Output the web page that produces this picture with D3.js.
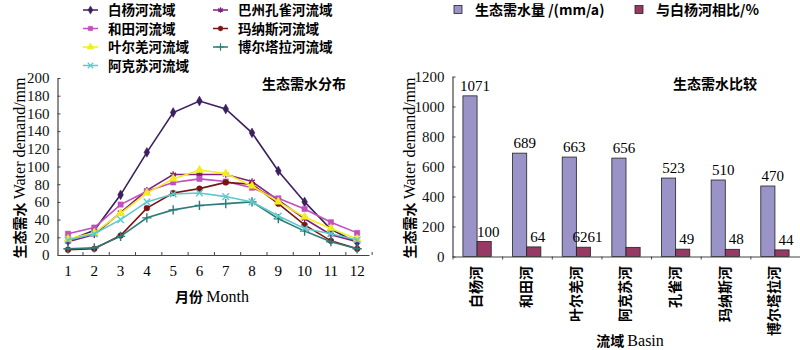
<!DOCTYPE html>
<html>
<head>
<meta charset="utf-8">
<script src="https://cdn.jsdelivr.net/npm/d3@7"></script>
<style>
  body { margin: 0; background: #fff; }
  svg { display: block; font-family: "Liberation Serif", "Noto Sans CJK SC", serif; }
  .cn { font-family: "Noto Sans CJK SC", sans-serif; font-weight: bold; }
  .en { font-family: "Liberation Serif", serif; font-size: 16px; }
</style>
</head>
<body>
<svg id="chart" width="800" height="350"></svg>
<script>
/* ======================== DATA ========================= */
/* ======================================================= */

let months = [1, 2, 3, 4, 5, 6, 7, 8, 9, 10, 11, 12];

let seriesNames = ["白杨河流域", "巴州孔雀河流域", "和田河流域", "玛纳斯河流域",
                   "叶尔羌河流域", "博尔塔拉河流域", "阿克苏河流域"];

let baiyang   = [16, 28, 68, 116, 161, 174, 165, 138, 95, 60, 29, 14];
let kongque   = [15, 23, 48, 73, 91, 91, 91, 83, 62, 41, 23, 15];
let hetian    = [24, 31, 57, 72, 82, 86, 83, 76, 64, 52, 37, 25];
let manasi    = [6, 7, 22, 53, 70, 75, 82, 80, 58, 34, 16, 7];
let yeerqiang = [18, 25, 47, 70, 86, 96, 92, 78, 60, 43, 30, 18];
let boertala  = [7, 8, 21, 42, 51, 56, 58, 60, 41, 27, 15, 7];
let akesu     = [17, 24, 40, 60, 69, 70, 66, 60, 44, 30, 24, 17];

let basins    = ["白杨河", "和田河", "叶尔羌河", "阿克苏河", "孔雀河", "玛纳斯河", "博尔塔拉河"];
let demand    = [1071, 689, 663, 656, 523, 510, 470];
let ratio     = [100, 64, 62, 61, 49, 48, 44];
let ratioText = ["100", "64", "6261", "", "49", "48", "44"];

let lineTicks = [0, 20, 40, 60, 80, 100, 120, 140, 160, 180, 200];
let barTicks  = [0, 200, 400, 600, 800, 1000, 1200];

/* ======================================================= */

let svg = d3.select("#chart");

function translate(x, y) { return "translate(" + x + "," + y + ")"; }

let lineSeries = [
    { name: seriesNames[0], values: baiyang,   color: "#3b1f5e", symbol: d3.symbolDiamond,  fill: true,  size: 28 },
    { name: seriesNames[1], values: kongque,   color: "#82207f", symbol: d3.symbolAsterisk, fill: false, size: 30 },
    { name: seriesNames[2], values: hetian,    color: "#c04fbf", symbol: d3.symbolSquare,   fill: true,  size: 28 },
    { name: seriesNames[3], values: manasi,    color: "#7b1414", symbol: d3.symbolCircle,   fill: true,  size: 26 },
    { name: seriesNames[4], values: yeerqiang, color: "#f2ee1a", symbol: d3.symbolTriangle, fill: true,  size: 30 },
    { name: seriesNames[5], values: boertala,  color: "#2e7b78", symbol: d3.symbolPlus,     fill: false, size: 30 },
    { name: seriesNames[6], values: akesu,     color: "#5ec9cc", symbol: d3.symbolTimes,    fill: false, size: 30 }
];

/* ==================== LINE CHART ======================= */
/* ======================================================= */

function drawLineChart() {

    let x = d3.scaleLinear().domain([0.6, 12.45]).range([57.5, 369]);
    let y = d3.scaleLinear().domain([0, 200]).range([255, 78]);

    let g = svg.append("g").attr("id", "line_chart");

    // axes
    g.append("g")
     .attr("transform", translate(57.5, 0))
     .call(d3.axisLeft(y).tickValues(lineTicks).tickSizeInner(-3).tickSizeOuter(0).tickPadding(8))
     .call(styleAxis);

    g.append("g")
     .attr("transform", translate(0, 255))
     .call(d3.axisBottom(x).tickValues(months.map(m => m + 0.55)).tickSizeInner(-3).tickSizeOuter(0).tickFormat(""))
     .call(styleAxis);

    g.append("g")
     .selectAll("text")
     .data(months)
     .join("text")
     .attr("x", d => x(d))
     .attr("y", 276)
     .attr("text-anchor", "middle")
     .style("font-size", "15px")
     .text(d => d);

    let line = d3.line()
                 .x((d, i) => x(months[i]))
                 .y(d => y(d));

    lineSeries.forEach(s => {
        g.append("path")
         .attr("d", line(s.values))
         .attr("fill", "none")
         .attr("stroke", s.color)
         .attr("stroke-width", 1.6);

        g.selectAll(null)
         .data(s.values)
         .join("path")
         .attr("transform", (d, i) => translate(x(months[i]), y(d)))
         .attr("d", d3.symbol(s.symbol, s.size))
         .attr("fill", s.fill ? s.color : "none")
         .attr("stroke", s.color)
         .attr("stroke-width", s.fill ? 0.5 : 1.4);
    });

    // titles
    g.append("text")
     .attr("class", "cn")
     .attr("x", 304).attr("y", 89)
     .attr("text-anchor", "middle")
     .style("font-size", "14px")
     .text("生态需水分布");

    let xt = g.append("text")
              .attr("x", 212).attr("y", 302)
              .attr("text-anchor", "middle")
              .style("font-size", "14px");
    xt.append("tspan").attr("class", "cn").text("月份 ");
    xt.append("tspan").attr("class", "en").text("Month");

    yTitle(g, 25, 168);

    // legend
    let cols = [83, 213];
    let rows = [10, 28.5, 47, 65.5];
    let pos = [[0, 0], [1, 0], [0, 1], [1, 1], [0, 2], [1, 2], [0, 3]];
    lineSeries.forEach((s, i) => {
        let lx = cols[pos[i][0]], ly = rows[pos[i][1]];
        let lg = g.append("g").attr("transform", translate(lx, ly));
        lg.append("line")
          .attr("x1", 0).attr("x2", 15)
          .attr("stroke", s.color).attr("stroke-width", 1.5);
        lg.append("path")
          .attr("transform", translate(7.5, 0))
          .attr("d", d3.symbol(s.symbol, s.size * 0.7))
          .attr("fill", s.fill ? s.color : "none")
          .attr("stroke", s.color)
          .attr("stroke-width", s.fill ? 0.5 : 1.2);
        lg.append("text")
          .attr("class", "cn")
          .attr("x", 25).attr("y", 5)
          .style("font-size", "13.5px")
          .text(s.name);
    });
}

/* ===================== BAR CHART ======================= */
/* ======================================================= */

function drawBarChart() {

    let x = d3.scaleBand().domain(basins).range([452.5, 800]).padding(0);
    let xSub = d3.scaleBand().domain(["demand", "ratio"])
                 .range([x.bandwidth() * 0.21, x.bandwidth() * 0.78]);
    let y = d3.scaleLinear().domain([0, 1200]).range([256.5, 76.5]);

    let g = svg.append("g").attr("id", "bar_chart");

    g.append("g")
     .selectAll("rect")
     .data(basins)
     .join("rect")
     .attr("x", d => x(d) + xSub("demand"))
     .attr("y", (d, i) => y(demand[i]))
     .attr("width", xSub.bandwidth())
     .attr("height", (d, i) => y(0) - y(demand[i]))
     .attr("fill", "#9a93c8")
     .attr("stroke", "#222")
     .attr("stroke-width", 0.8);

    g.append("g")
     .selectAll("rect")
     .data(basins)
     .join("rect")
     .attr("x", d => x(d) + xSub("ratio"))
     .attr("y", (d, i) => y(ratio[i]))
     .attr("width", xSub.bandwidth())
     .attr("height", (d, i) => y(0) - y(ratio[i]))
     .attr("fill", "#963a64")
     .attr("stroke", "#222")
     .attr("stroke-width", 0.8);

    // value labels
    g.append("g")
     .selectAll("text")
     .data(basins)
     .join("text")
     .attr("x", d => x(d) + xSub("demand") + xSub.bandwidth() / 2 + 5)
     .attr("y", (d, i) => y(demand[i]) - 5)
     .attr("text-anchor", "middle")
     .style("font-size", "15px")
     .text((d, i) => demand[i]);

    g.append("g")
     .selectAll("text")
     .data(basins)
     .join("text")
     .attr("x", d => x(d) + xSub("ratio") + xSub.bandwidth() / 2 + 4)
     .attr("y", (d, i) => y(ratio[i]) - 5)
     .attr("text-anchor", "middle")
     .style("font-size", "15px")
     .text((d, i) => ratioText[i]);

    // axes
    g.append("g")
     .attr("transform", translate(452.5, 0))
     .call(d3.axisLeft(y).tickValues(barTicks).tickFormat(d3.format("d"))
             .tickSizeInner(-3).tickSizeOuter(0).tickPadding(8))
     .call(styleAxis);

    g.append("g")
     .attr("transform", translate(0, 256.5))
     .call(d3.axisBottom(d3.scalePoint().domain(d3.range(8)).range([452.5, 800]))
               .tickSizeInner(3).tickSizeOuter(0).tickFormat(""))
     .call(styleAxis);

    g.append("g")
     .selectAll("text")
     .data(basins)
     .join("text")
     .attr("class", "cn")
     .attr("transform", d => translate(x(d) + x.bandwidth() / 2 + 4, 266) + " rotate(-90)")
     .attr("text-anchor", "end")
     .style("font-size", "14px")
     .text(d => d);

    g.append("text")
     .attr("class", "cn")
     .attr("x", 715).attr("y", 89)
     .attr("text-anchor", "middle")
     .style("font-size", "14px")
     .text("生态需水比较");

    let xt = g.append("text")
              .attr("x", 630).attr("y", 346)
              .attr("text-anchor", "middle")
              .style("font-size", "14px");
    xt.append("tspan").attr("class", "cn").text("流域 ");
    xt.append("tspan").attr("class", "en").text("Basin");

    yTitle(g, 415, 168);

    // legend
    let items = [
        { label: "生态需水量 /(mm/a)", color: "#9a93c8", x: 454 },
        { label: "与白杨河相比/%", color: "#963a64", x: 635 }
    ];
    items.forEach(it => {
        let lg = g.append("g").attr("transform", translate(it.x, 10));
        lg.append("rect")
          .attr("x", 0).attr("y", -4.5)
          .attr("width", 8).attr("height", 8)
          .attr("fill", it.color)
          .attr("stroke", "#222")
          .attr("stroke-width", 0.8);
        lg.append("text")
          .attr("class", "cn")
          .attr("x", 21).attr("y", 5)
          .style("font-size", "14px")
          .text(it.label);
    });
}

/* =================== HELPER FUNCTIONS ================== */
/* ======================================================= */

function styleAxis(sel) {
    sel.select(".domain").attr("stroke", "#444").attr("stroke-width", 1.2);
    sel.selectAll(".tick line").attr("stroke", "#444");
    sel.selectAll(".tick text")
       .attr("fill", "#111")
       .style("font-family", "'Liberation Serif', serif")
       .style("font-size", "15px");
}

function yTitle(g, x, y) {
    let t = g.append("text")
             .attr("transform", translate(x, y) + " rotate(-90)")
             .attr("text-anchor", "middle")
             .style("font-size", "14px");
    t.append("tspan").attr("class", "cn").text("生态需水 ");
    t.append("tspan").attr("class", "en").text("Water demand/mm");
}

drawLineChart();
drawBarChart();
</script>
</body>
</html>
